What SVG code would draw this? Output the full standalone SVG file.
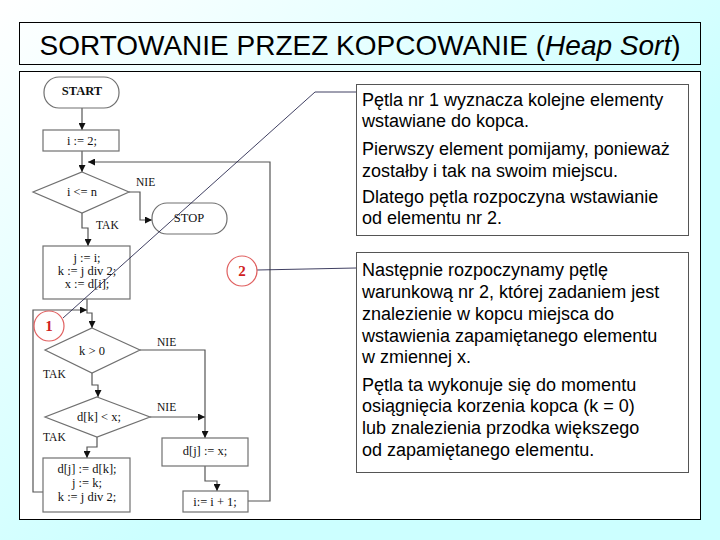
<svg xmlns="http://www.w3.org/2000/svg" width="720" height="540" viewBox="0 0 720 540">
<defs>
<linearGradient id="bg" x1="0" y1="0" x2="0.6" y2="0.6">
<stop offset="0" stop-color="#ffffff"/>
<stop offset="1" stop-color="#ccffff"/>
</linearGradient>
<marker id="ah" markerWidth="7" markerHeight="7" refX="7" refY="3.5" orient="auto" markerUnits="userSpaceOnUse">
<path d="M0,0 L7,3.5 L0,7 z" fill="#111"/>
</marker>
<style>
.fc{fill:#fff;stroke:#707070;stroke-width:1.2}
.ft{font-family:"Liberation Serif","Times New Roman",serif;font-size:12.5px;fill:#111;text-anchor:middle}
.lb{font-family:"Liberation Serif","Times New Roman",serif;font-size:11.5px;fill:#111}
.cn{fill:none;stroke:#555;stroke-width:1.2;marker-end:url(#ah)}
.ld{fill:none;stroke:#2a2a50;stroke-width:0.9}
.bx{fill:#fff;stroke:#555;stroke-width:1}
.tx{font-family:"Liberation Sans",Arial,sans-serif;font-size:18px;fill:#000}
.rc{fill:#fff;stroke:#e06060;stroke-width:1.2}
.rt{font-family:"Liberation Serif","Times New Roman",serif;font-size:15px;font-weight:bold;fill:#d02020;text-anchor:middle}
</style>
</defs>
<rect width="720" height="540" fill="url(#bg)"/>
<g id="title">
<rect x="19.5" y="22.5" width="681" height="42" fill="none" stroke="#000" stroke-width="1"/>
<text x="360" y="55" text-anchor="middle" font-family="'Liberation Sans',Arial,sans-serif" font-size="28" fill="#000">SORTOWANIE PRZEZ KOPCOWANIE (<tspan font-style="italic">Heap Sort</tspan>)</text>
</g>
<rect id="panel" x="19.5" y="71.5" width="681" height="448" fill="#fff" stroke="#000" stroke-width="1"/>
<g id="connectors">
<path class="cn" d="M82,108 V130"/>
<path class="cn" d="M82,151 V172"/>
<path class="cn" d="M129,192 H140 V220 H152"/>
<path class="cn" d="M82,213 V228 H88 V246"/>
<path class="cn" d="M87,299 V313 H92 V328"/>
<path class="cn" d="M43,492 H33 V310 H87"/>
<path class="cn" d="M140,350 H205 V438"/>
<path class="cn" d="M92,373 V385 H98 V397"/>
<path class="cn" d="M150,417 H205"/>
<path class="cn" d="M97,437 V447 H87 V458"/>
<path class="cn" d="M205,466 V481 H217 V491"/>
<path class="cn" d="M248,501 H270 V162 H88"/>
<text class="lb" x="136" y="186">NIE</text>
<text class="lb" x="96" y="229">TAK</text>
<text class="lb" x="157" y="346">NIE</text>
<text class="lb" x="43" y="378">TAK</text>
<text class="lb" x="157" y="411">NIE</text>
<text class="lb" x="43" y="441">TAK</text>
</g>
<g id="start">
<rect class="fc" x="44" y="77" width="75" height="31" rx="15"/>
<text class="ft" x="82" y="95" font-weight="bold" font-size="12">START</text>
</g>
<g id="init">
<rect class="fc" x="43" y="130" width="76" height="21"/>
<text class="ft" x="82" y="145">i := 2;</text>
</g>
<g id="cond1">
<polygon class="fc" points="82,172 129,192 82,213 33,192"/>
<text class="ft" x="82" y="196">i &lt;= n</text>
</g>
<g id="stop">
<rect class="fc" x="152" y="203" width="75" height="31" rx="15"/>
<text class="ft" x="189" y="222" font-size="12">STOP</text>
</g>
<g id="assign1">
<rect class="fc" x="43" y="246" width="87" height="53"/>
<text class="ft" x="87" y="262">j := i;</text>
<text class="ft" x="87" y="275">k := j div 2;</text>
<text class="ft" x="87" y="288">x := d[i];</text>
</g>
<g id="cond2">
<polygon class="fc" points="92,328 140,350 92,373 45,350"/>
<text class="ft" x="92" y="355">k &gt; 0</text>
</g>
<g id="cond3">
<polygon class="fc" points="97,397 150,417 97,437 45,417"/>
<text class="ft" x="99" y="421">d[k] &lt; x;</text>
</g>
<g id="assign2">
<rect class="fc" x="43" y="458" width="87" height="54"/>
<text class="ft" x="87" y="473">d[j] := d[k];</text>
<text class="ft" x="87" y="487">j := k;</text>
<text class="ft" x="87" y="501">k := j div 2;</text>
</g>
<g id="assign3">
<rect class="fc" x="162" y="438" width="86" height="28"/>
<text class="ft" x="205" y="455">d[j] := x;</text>
</g>
<g id="incr">
<rect class="fc" x="183" y="491" width="65" height="21"/>
<text class="ft" x="215" y="506">i:= i + 1;</text>
</g>
<g id="leaders">
<path class="ld" d="M63,318 L315,92 H356"/>
<path class="ld" d="M257,270 L356,268"/>
</g>
<g id="mark1">
<circle class="rc" cx="49" cy="326" r="15"/>
<text class="rt" x="49" y="331">1</text>
</g>
<g id="mark2">
<circle class="rc" cx="242" cy="271" r="15"/>
<text class="rt" x="242" y="276">2</text>
</g>
<g id="note1">
<rect class="bx" x="356.5" y="84.5" width="332" height="151"/>
<text class="tx" x="362" y="106">Pętla nr 1 wyznacza kolejne elementy</text>
<text class="tx" x="362" y="127">wstawiane do kopca.</text>
<text class="tx" x="362" y="155">Pierwszy element pomijamy, ponieważ</text>
<text class="tx" x="362" y="177">zostałby i tak na swoim miejscu.</text>
<text class="tx" x="362" y="203">Dlatego pętla rozpoczyna wstawianie</text>
<text class="tx" x="362" y="224">od elementu nr 2.</text>
</g>
<g id="note2">
<rect class="bx" x="356.5" y="252.5" width="332" height="220"/>
<text class="tx" x="362" y="276">Następnie rozpoczynamy pętlę</text>
<text class="tx" x="362" y="298">warunkową nr 2, której zadaniem jest</text>
<text class="tx" x="362" y="320">znalezienie w kopcu miejsca do</text>
<text class="tx" x="362" y="342">wstawienia zapamiętanego elementu</text>
<text class="tx" x="362" y="363">w zmiennej x.</text>
<text class="tx" x="362" y="391">Pętla ta wykonuje się do momentu</text>
<text class="tx" x="362" y="412">osiągnięcia korzenia kopca (k = 0)</text>
<text class="tx" x="362" y="434">lub znalezienia przodka większego</text>
<text class="tx" x="362" y="456">od zapamiętanego elementu.</text>
</g>
</svg>
